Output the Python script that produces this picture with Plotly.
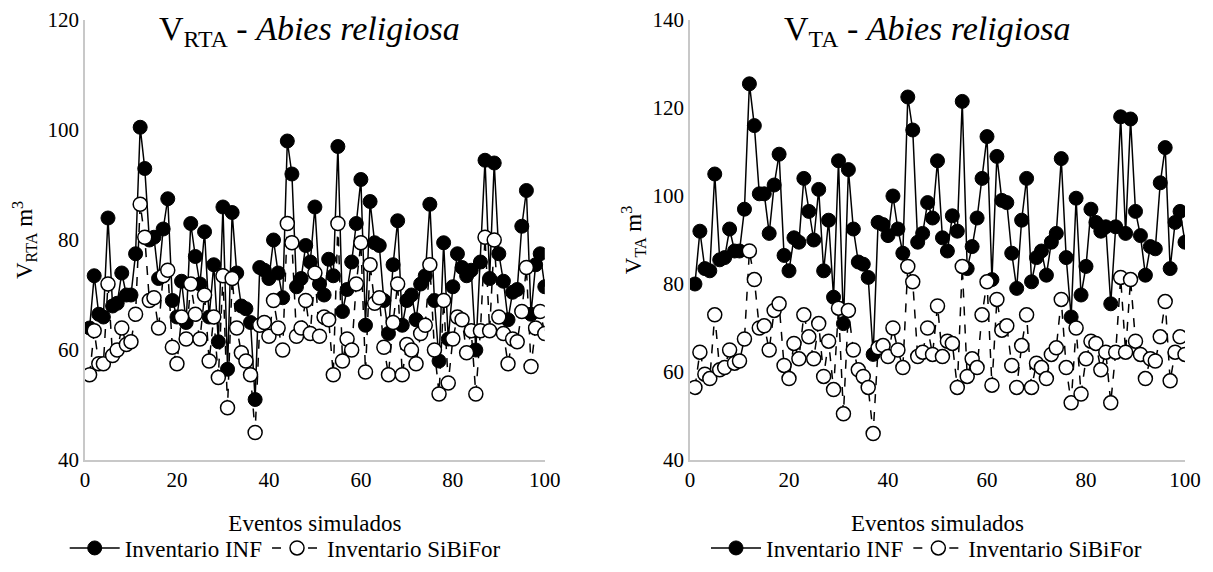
import plotly.graph_objects as go

eventos = list(range(1, 101))

vrta_inf = [64, 73.5, 66.5, 66, 84, 68, 68.5, 74, 70, 70,
            77.5, 100.5, 93, 80, 80.5, 73, 82, 87.5, 69, 66,
            72.5, 65, 83, 77, 72, 81.5, 66, 75.5, 61.5, 86,
            56.5, 85, 74, 68, 67.5, 65, 51, 75, 74.5, 73,
            80, 74, 69.5, 98, 92, 71.5, 73, 79, 76, 86,
            72, 70, 76.5, 73.5, 97, 67, 71, 76, 83, 91,
            64.5, 87, 79.5, 79, 69, 63, 75.5, 83.5, 64.5, 69,
            70, 65.5, 72, 73.5, 86.5, 69, 58, 79.5, 62, 71.5,
            77.5, 75, 73.5, 74.5, 60, 76, 94.5, 73, 94, 77.5,
            72.5, 65.5, 70.5, 71, 82.5, 89, 66.5, 75.5, 77.5, 71.5]

vrta_sib = [55.5, 63.5, 57.5, 57.5, 72, 59, 60, 64, 61, 61.5,
            66.5, 86.5, 80.5, 69, 69.5, 64, 73.5, 74.5, 60.5, 57.5,
            66, 62, 72, 66.5, 62, 70, 58, 66, 55, 73.5,
            49.5, 73, 64, 59.5, 58, 55.5, 45, 64.5, 65, 62.5,
            69, 64, 60, 83, 79.5, 62.5, 64, 69, 63, 74,
            62.5, 66, 65.5, 55.5, 83, 58, 62, 60, 72, 79.5,
            56, 75.5, 68.5, 69.5, 60.5, 55.5, 65, 72, 55.5, 61,
            60, 57.5, 63, 64.5, 75.5, 60, 52, 69, 54, 62,
            66, 65.5, 59.5, 63.5, 52, 63.5, 80.5, 63.5, 80, 66,
            63, 57.5, 62, 61.5, 67, 75, 57, 64, 67, 63]

vta_inf = [80, 92, 83.5, 83, 105, 85.5, 86, 92.5, 87.5, 87.5,
           97, 125.5, 116, 100.5, 100.5, 91.5, 102.5, 109.5, 86.5, 83,
           90.5, 89.5, 104, 96.5, 90, 101.5, 83, 94.5, 77, 108,
           71, 106, 92.5, 85, 84.5, 81.5, 64, 94, 93.5, 91,
           100, 92.5, 87, 122.5, 115, 89.5, 91.5, 98.5, 95, 108,
           90.5, 87.5, 95.5, 92, 121.5, 83.5, 88.5, 95, 104, 113.5,
           81, 109, 99, 98.5, 87, 79, 94.5, 104, 80.5, 86,
           87.5, 82, 89.5, 91.5, 108.5, 86, 72.5, 99.5, 77.5, 84,
           97, 94, 92, 93, 75.5, 93, 118, 91.5, 117.5, 96.5,
           91, 82, 88.5, 88, 103, 111, 83.5, 94, 96.5, 89.5]

vta_sib = [56.5, 64.5, 59.5, 58.5, 73, 60.5, 61, 65, 62, 62.5,
           67.5, 87.5, 81, 70, 70.5, 65, 74, 75.5, 61.5, 58.5,
           66.5, 63, 73, 68, 63, 71, 59, 67, 56, 74.5,
           50.5, 74, 65, 60.5, 59, 56.5, 46, 65.5, 66, 63.5,
           70, 65, 61, 84, 80.5, 63.5, 64.5, 70, 64, 75,
           63.5, 67, 66.5, 56.5, 84, 59, 63, 61, 73, 80.5,
           57, 76.5, 69.5, 70.5, 61.5, 56.5, 66, 73, 56.5, 62,
           61, 58.5, 64, 65.5, 76.5, 61, 53, 70, 55, 63,
           67, 66.5, 60.5, 64.5, 53, 64.5, 81.5, 64.5, 81, 67,
           64, 58.5, 63, 62.5, 68, 76, 58, 64.5, 68, 64]

FONT = "Liberation Serif, Times New Roman, serif"

fig = go.Figure()

def add_pair(inf, sib, xa, ya, leg):
    fig.add_trace(go.Scatter(
        x=eventos, y=inf, mode="lines+markers", name="Inventario INF",
        xaxis=xa, yaxis=ya, legend=leg,
        line=dict(color="black", width=1.5),
        marker=dict(symbol="circle", size=14, color="black",
                    line=dict(color="black", width=1))))
    fig.add_trace(go.Scatter(
        x=eventos, y=sib, mode="lines+markers", name="Inventario SiBiFor",
        xaxis=xa, yaxis=ya, legend=leg,
        line=dict(color="black", width=1.5, dash="dash"),
        marker=dict(symbol="circle", size=14, color="white",
                    line=dict(color="black", width=1.5))))

add_pair(vrta_inf, vrta_sib, "x", "y", "legend")
add_pair(vta_inf, vta_sib, "x2", "y2", "legend2")


def fnt(size):
    return dict(family=FONT, size=size, color="black",
                weight="normal", style="normal", variant="normal")


def axis_common():
    return dict(showgrid=False, zeroline=False, showline=True,
                linecolor="#c8c8c8", linewidth=1.5, ticks="",
                tickfont=fnt(21))


fig.update_layout(
    width=1213, height=572,
    margin=dict(l=85, r=28, t=20, b=112, autoexpand=False),
    paper_bgcolor="white", plot_bgcolor="white",
    font=fnt(22),
    xaxis=dict(domain=[0.0, 0.418], range=[0, 100], dtick=20, anchor="y",
               title=dict(text="Eventos simulados", font=fnt(23), standoff=24),
               **axis_common()),
    yaxis=dict(domain=[0.0, 1.0], range=[40, 120], dtick=20, anchor="x",
               title=dict(text="V<sub>RTA</sub> m<sup>3</sup>", font=fnt(23), standoff=8),
               **axis_common()),
    xaxis2=dict(domain=[0.55, 1.0], range=[0, 100], dtick=20, anchor="y2",
                title=dict(text="Eventos simulados", font=fnt(23), standoff=24),
                **axis_common()),
    yaxis2=dict(domain=[0.0, 1.0], range=[40, 140], dtick=20, anchor="x2",
                title=dict(text="V<sub>TA</sub> m<sup>3</sup>", font=fnt(23), standoff=4),
                **axis_common()),
    legend=dict(orientation="h", x=0.182, xanchor="center", y=-0.20, yanchor="middle",
                itemwidth=50, font=fnt(23), bgcolor="rgba(0,0,0,0)"),
    legend2=dict(orientation="h", x=0.765, xanchor="center", y=-0.20, yanchor="middle",
                 itemwidth=50, font=fnt(23), bgcolor="rgba(0,0,0,0)"),
    annotations=[
        dict(text="V<sub>RTA</sub> - <i>Abies religiosa</i>", x=0.204, y=0.975,
             xref="paper", yref="paper", xanchor="center", yanchor="middle", showarrow=False,
             font=fnt(34)),
        dict(text="V<sub>TA</sub> - <i>Abies religiosa</i>", x=0.765, y=0.975,
             xref="paper", yref="paper", xanchor="center", yanchor="middle", showarrow=False,
             font=fnt(34)),
    ],
)

fig.write_html("out.html")
